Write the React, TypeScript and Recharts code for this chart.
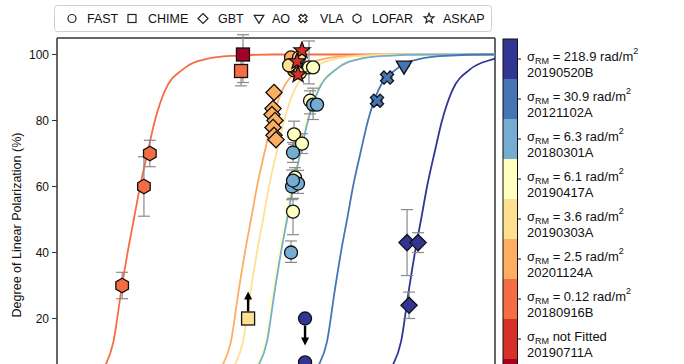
import React from "react";
import {
  ComposedChart,
  Line,
  Scatter,
  XAxis,
  YAxis,
  ErrorBar,
  ReferenceLine,
} from "recharts";

const FONT = '"Liberation Sans", Arial, Helvetica, sans-serif';

// colour bar entries, top to bottom
const frbNames = [
  "20190520B",
  "20121102A",
  "20180301A",
  "20190417A",
  "20190303A",
  "20201124A",
  "20180916B",
  "20190711A",
  "other",
];
const sigmaRM = ["218.9", "30.9", "6.3", "6.1", "3.6", "2.5", "0.12", null, null];
const frbColors = [
  "#313695",
  "#4575b4",
  "#74add1",
  "#ffffbf",
  "#fee090",
  "#fdae61",
  "#f46d43",
  "#d73027",
  "#a50026",
];

const instruments = ["FAST", "CHIME", "GBT", "AO", "VLA", "LOFAR", "ASKAP"];

// fitted depolarization curves (frequency in MHz, polarization in %)
const curveF_20180916B = [81.6, 94.5, 106, 118, 130, 139, 151, 168, 184, 210, 267, 367, 519, 895, 17000];
const curveP_20180916B = [1, 5.5, 13, 29, 42, 50, 60, 71, 80, 89, 95.5, 98.7, 99.6, 100, 100];
const curveF_20201124A = [388, 449, 506, 563, 619, 661, 716, 797, 874, 999, 1269, 1746, 2469, 4257, 17000];
const curveP_20201124A = [1, 5.5, 13, 29, 42, 50, 60, 71, 80, 89, 95.5, 98.7, 99.6, 100, 100];
const curveF_20190303A = [456, 528, 594, 661, 726, 776, 840, 935, 1026, 1173, 1490, 2050, 2898, 4997, 17000];
const curveP_20190303A = [1, 5.5, 13, 29, 42, 50, 60, 71, 80, 89, 95.5, 98.7, 99.6, 100, 100];
const curveF_20190417A = [610, 707, 797, 886, 973, 1040, 1126, 1253, 1375, 1571, 1997, 2748, 3884, 6698, 17000];
const curveP_20190417A = [1, 5.5, 13, 29, 42, 50, 60, 71, 80, 89, 95.5, 98.7, 99.6, 100, 100];
const curveF_20180301A = [627, 726, 818, 910, 1000, 1068, 1157, 1287, 1412, 1614, 2051, 2822, 3989, 6878, 17000];
const curveP_20180301A = [1, 5.5, 13, 29, 42, 50, 60, 71, 80, 89, 95.5, 98.7, 99.6, 100, 100];
const curveF_20121102A = [1393, 1614, 1818, 2022, 2221, 2373, 2570, 2859, 3137, 3586, 4556, 6269, 8863, 15282, 17000];
const curveP_20121102A = [1, 5.5, 13, 29, 42, 50, 60, 71, 80, 89, 95.5, 98.7, 99.6, 100, 100];
const curveF_20190520B = [3731, 4322, 4869, 5415, 5949, 6356, 6884, 7659, 8403, 9604, 12204, 16793, 17000];
const curveP_20190520B = [1, 5.5, 13, 29, 42, 50, 60, 71, 80, 89, 95.5, 98.7, 98.8];

const curves = [
  { frb: "20180916B", f: curveF_20180916B, p: curveP_20180916B },
  { frb: "20201124A", f: curveF_20201124A, p: curveP_20201124A },
  { frb: "20190303A", f: curveF_20190303A, p: curveP_20190303A },
  { frb: "20190417A", f: curveF_20190417A, p: curveP_20190417A },
  { frb: "20180301A", f: curveF_20180301A, p: curveP_20180301A },
  { frb: "20121102A", f: curveF_20121102A, p: curveP_20121102A },
  { frb: "20190520B", f: curveF_20190520B, p: curveP_20190520B },
];

// measurements: f (MHz), p (%), err [down, up], lim = limit arrow
const lofarPoints = [
  { f: 119, p: 30, err: [4, 4], frb: "20180916B" },
  { f: 159, p: 60, err: [9, 9], frb: "20180916B" },
  { f: 172, p: 70, err: [4, 4], frb: "20180916B" },
];
const chimePoints = [
  { f: 594, p: 100, err: [8.5, 6], frb: "other" },
  { f: 579, p: 95, err: [4.5, 4.5], frb: "20180916B" },
  { f: 636, p: 20, err: [0, 0], frb: "20190303A", lim: "up" },
];
const gbtPoints = [
  { f: 898, p: 88.5, err: [0, 0], frb: "20201124A" },
  { f: 886, p: 83.6, err: [0, 0], frb: "20201124A" },
  { f: 874, p: 81.8, err: [0, 0], frb: "20201124A" },
  { f: 910, p: 80, err: [0, 0], frb: "20201124A" },
  { f: 886, p: 77.9, err: [0, 0], frb: "20201124A" },
  { f: 898, p: 75.5, err: [0, 0], frb: "20201124A" },
  { f: 922, p: 74.2, err: [0, 0], frb: "20201124A" },
  { f: 5274, p: 43, err: [10, 10], frb: "20190520B" },
  { f: 6106, p: 43, err: [3, 3], frb: "20190520B" },
  { f: 5416, p: 24, err: [4, 4], frb: "20190520B" },
];
const aoPoints = [{ f: 5067, p: 96.4, err: [0, 0], frb: "20121102A" }];
const vlaPoints = [
  { f: 3536, p: 86, err: [0, 0], frb: "20121102A" },
  { f: 4040, p: 93, err: [0, 0], frb: "20121102A" },
];
const fastPoints = [
  { f: 1126, p: 99.1, err: [0, 0], frb: "20201124A" },
  { f: 1172, p: 95.2, err: [0, 0], frb: "20201124A" },
  { f: 1203, p: 97.3, err: [0, 0], frb: "20201124A" },
  { f: 1097, p: 96.7, err: [0, 0], frb: "20190303A" },
  { f: 1252, p: 99.1, err: [0, 0], frb: "20190303A" },
  { f: 1269, p: 94.5, err: [0, 0], frb: "20190303A" },
  { f: 1430, p: 96.1, err: [5, 8], frb: "20190417A" },
  { f: 1510, p: 96.1, err: [0, 0], frb: "20190417A" },
  { f: 1450, p: 86, err: [4, 3], frb: "20190417A" },
  { f: 1172, p: 75.8, err: [3, 4], frb: "20190417A" },
  { f: 1303, p: 73, err: [3, 3], frb: "20190417A" },
  { f: 1188, p: 62.7, err: [3, 3], frb: "20190417A" },
  { f: 1156, p: 52.4, err: [7, 4], frb: "20190417A" },
  { f: 1510, p: 84.8, err: [4.5, 5], frb: "20180301A" },
  { f: 1592, p: 84.8, err: [0, 0], frb: "20180301A" },
  { f: 1156, p: 70.3, err: [3, 3], frb: "20180301A" },
  { f: 1141, p: 60, err: [4, 5], frb: "20180301A" },
  { f: 1236, p: 60.9, err: [3, 4], frb: "20180301A" },
  { f: 1156, p: 61.8, err: [0, 0], frb: "20180301A" },
  { f: 1126, p: 40, err: [3, 3.5], frb: "20180301A" },
  { f: 1357, p: 20, err: [0, 0], frb: "20190520B", lim: "down" },
  { f: 1357, p: 6.7, err: [0, 0], frb: "20190520B" },
];
const askapPoints = [
  { f: 1303, p: 101.2, err: [0, 0], frb: "20190711A" },
  { f: 1219, p: 97.9, err: [0, 0], frb: "20190711A" },
  { f: 1236, p: 93.9, err: [0, 0], frb: "20190711A" },
];

const yTicks = [20, 40, 60, 80, 100];

const colorOf = (frb: string) => frbColors[frbNames.indexOf(frb)];

function crossPoints(cx: number, cy: number, L: number, w: number) {
  const base = [
    [w, L], [w, w], [L, w], [L, -w], [w, -w], [w, -L],
    [-w, -L], [-w, -w], [-L, -w], [-L, w], [-w, w], [-w, L],
  ];
  const c = Math.SQRT1_2;
  return base
    .map(([x, y]) => `${cx + (x - y) * c},${cy + (x + y) * c}`)
    .join(" ");
}

function regularPoints(cx: number, cy: number, n: number, rOut: number, rIn: number | null, rot: number) {
  const pts: string[] = [];
  const count = rIn === null ? n : n * 2;
  for (let i = 0; i < count; i++) {
    const r = rIn === null || i % 2 === 0 ? rOut : rIn;
    const a = rot + (i * 2 * Math.PI) / count;
    pts.push(`${cx + r * Math.cos(a)},${cy + r * Math.sin(a)}`);
  }
  return pts.join(" ");
}

function Marker({ kind, cx, cy, r, fill, stroke, sw }: any) {
  const common = { fill, stroke, strokeWidth: sw, strokeLinejoin: "miter" as const };
  switch (kind) {
    case "FAST":
      return <circle cx={cx} cy={cy} r={r} {...common} />;
    case "CHIME":
      return <rect x={cx - r} y={cy - r} width={2 * r} height={2 * r} {...common} />;
    case "GBT": {
      const d = r * 1.25;
      return <polygon points={`${cx},${cy - d} ${cx + d},${cy} ${cx},${cy + d} ${cx - d},${cy}`} {...common} />;
    }
    case "AO":
      return (
        <polygon
          points={`${cx - r * 1.2},${cy - r * 0.8} ${cx + r * 1.2},${cy - r * 0.8} ${cx},${cy + r * 1.2}`}
          {...common}
        />
      );
    case "VLA":
      return <polygon points={crossPoints(cx, cy, r * 1.05, r * 0.38)} {...common} />;
    case "LOFAR":
      return <polygon points={regularPoints(cx, cy, 6, r * 1.12, null, -Math.PI / 2)} {...common} />;
    case "ASKAP":
      return <polygon points={regularPoints(cx, cy, 5, r * 1.3, r * 0.55, -Math.PI / 2)} {...common} />;
    default:
      return null;
  }
}

function makeShape(kind: string) {
  return (props: any) => {
    const { cx, cy, payload } = props;
    if (cx == null || cy == null) return <g />;
    return (
      <g>
        {payload.lim === "up" && (
          <g>
            <line x1={cx} y1={cy - 7} x2={cx} y2={cy - 20} stroke="#000" strokeWidth={2.4} />
            <polygon points={`${cx - 4},${cy - 19} ${cx + 4},${cy - 19} ${cx},${cy - 27}`} fill="#000" />
          </g>
        )}
        {payload.lim === "down" && (
          <g>
            <line x1={cx} y1={cy + 7} x2={cx} y2={cy + 20} stroke="#000" strokeWidth={2.4} />
            <polygon points={`${cx - 4},${cy + 19} ${cx + 4},${cy + 19} ${cx},${cy + 27}`} fill="#000" />
          </g>
        )}
        <Marker kind={kind} cx={cx} cy={cy} r={6.5} fill={colorOf(payload.frb)} stroke="#111" sw={1.3} />
      </g>
    );
  };
}

const scatterSets = [
  { kind: "LOFAR", data: lofarPoints },
  { kind: "CHIME", data: chimePoints },
  { kind: "GBT", data: gbtPoints },
  { kind: "AO", data: aoPoints },
  { kind: "VLA", data: vlaPoints },
  { kind: "FAST", data: fastPoints },
  { kind: "ASKAP", data: askapPoints },
];

const legendIconX = [72, 132, 203, 259, 303, 357, 429];
const legendTextX = [87, 148, 218, 272, 320, 372, 443];

function Overlay() {
  return (
    <svg
      width={684}
      height={364}
      style={{ position: "absolute", left: 0, top: 0, pointerEvents: "none", fontFamily: FONT }}
    >
      {/* instrument legend */}
      <rect x={54.5} y={5.5} width={437} height={26} rx={3} fill="#fff" stroke="#cfcfcf" />
      {instruments.map((name, i) => (
        <g key={name}>
          <Marker kind={name} cx={legendIconX[i]} cy={18.5} r={4} fill="none" stroke="#222" sw={1.2} />
          <text x={legendTextX[i]} y={23} fontSize={12.5} fill="#111">
            {name}
          </text>
        </g>
      ))}

      {/* y label */}
      <text
        x={17}
        y={225}
        transform="rotate(-90 17 225)"
        textAnchor="middle"
        dominantBaseline="central"
        fontSize={12.5}
        fill="#111"
      >
        Degree of Linear Polarization (%)
      </text>

      {/* colour bar */}
      {frbColors.map((c, i) => (
        <rect key={c} x={503} y={39 + i * 40} width={14.5} height={40} fill={c} />
      ))}
      <rect x={503} y={39} width={14.5} height={360} fill="none" stroke="#111" strokeWidth={1} />
      {frbNames.slice(0, 8).map((name, i) => {
        const top = 39 + i * 40;
        return (
          <g key={name}>
            <line x1={517.5} x2={521} y1={top + 20} y2={top + 20} stroke="#111" />
            <text x={527} y={top + 22} fontSize={13} fill="#111">
              <tspan>σ</tspan>
              <tspan fontSize={9} dy={3}>RM</tspan>
              {sigmaRM[i] ? (
                <>
                  <tspan dy={-3}>{` = ${sigmaRM[i]} rad/m`}</tspan>
                  <tspan fontSize={9} dy={-7}>2</tspan>
                </>
              ) : (
                <tspan dy={-3}> not Fitted</tspan>
              )}
            </text>
            <text x={527} y={top + 38} fontSize={13} fill="#111">
              {name}
            </text>
          </g>
        );
      })}
    </svg>
  );
}

export default function App() {
  return (
    <div
      style={{
        position: "fixed",
        left: 0,
        top: 0,
        width: 684,
        height: 364,
        overflow: "hidden",
        background: "#fff",
      }}
    >
      <ComposedChart width={684} height={420} margin={{ top: 38, right: 189, left: 12, bottom: 5.5 }}>
        <XAxis
          type="number"
          dataKey="f"
          scale="log"
          domain={[50, 17000]}
          allowDataOverflow
          ticks={[100, 1000, 10000]}
          height={30}
          axisLine={{ stroke: "#333", strokeWidth: 1.5 }}
          tickLine={false}
          tick={false}
        />
        <YAxis
          type="number"
          dataKey="p"
          domain={[0, 105]}
          allowDataOverflow
          ticks={yTicks}
          width={45}
          tickSize={5}
          tickMargin={3}
          axisLine={{ stroke: "#333", strokeWidth: 1.5 }}
          tickLine={{ stroke: "#333" }}
          tick={{ fontSize: 12, fill: "#111", fontFamily: FONT }}
        />
        <ReferenceLine y={105} stroke="#333" strokeWidth={1.5} />
        <ReferenceLine x={17000} stroke="#333" strokeWidth={1.5} />
        {curves.map((c) => (
          <Line
            key={c.frb}
            data={c.f.map((f, i) => ({ f, p: c.p[i] }))}
            dataKey="p"
            type="monotone"
            stroke={colorOf(c.frb)}
            strokeWidth={1.8}
            dot={false}
            activeDot={false}
            isAnimationActive={false}
          />
        ))}
        {scatterSets.map((s) => (
          <Scatter
            key={s.kind}
            name={s.kind}
            data={s.data}
            dataKey="p"
            shape={makeShape(s.kind)}
            isAnimationActive={false}
          >
            <ErrorBar dataKey="err" direction="y" width={6} stroke="#8a8a8a" strokeWidth={1.2} isAnimationActive={false} />
          </Scatter>
        ))}
      </ComposedChart>
      <Overlay />
    </div>
  );
}
